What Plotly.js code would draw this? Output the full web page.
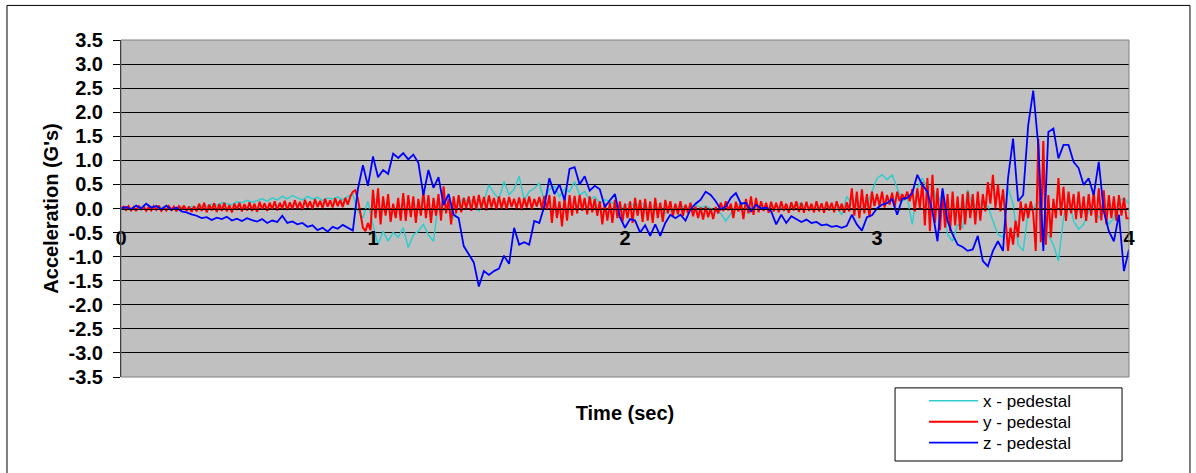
<!DOCTYPE html>
<html>
<head>
<meta charset="utf-8">
<script src="https://cdn.plot.ly/plotly-3.0.1.min.js"></script>
<style>html,body{margin:0;padding:0;background:#fff;}#chart{width:1196px;height:473px;}</style>
</head>
<body>
<div id="chart"></div>
<script>
// Series names
const seriesNames = ["x - pedestal", "y - pedestal", "z - pedestal"];
// Time axis ticks
const timeTicks = [0, 1, 2, 3, 4];
const timeTickLabels = ["0", "1", "2", "3", "4"];
// Acceleration axis ticks
const accelTicks = [-3.5, -3.0, -2.5, -2.0, -1.5, -1.0, -0.5, 0.0, 0.5, 1.0, 1.5, 2.0, 2.5, 3.0, 3.5];
const accelTickLabels = ["-3.5", "-3.0", "-2.5", "-2.0", "-1.5", "-1.0", "-0.5", "0.0", "0.5", "1.0", "1.5", "2.0", "2.5", "3.0", "3.5"];
// Sampling: x and z read every 0.02 s, y every 0.01 s (starting at 0 s)
const stepXZ = 0.02;
const stepY = 0.01;

// x - pedestal (G's), every 0.02 s from 0 to 4 s
const xPedestal = [
 0.00,-0.03,0.02,-0.05,0.03,0.00,0.04,-0.02,0.03,0.00,
 0.02,-0.02,0.03,0.00,0.04,0.02,0.06,0.05,0.09,0.07,
 0.12,0.10,0.08,0.14,0.12,0.17,0.13,0.16,0.20,0.15,
 0.22,0.18,0.25,0.20,0.27,0.22,0.18,0.25,0.20,0.23,
 0.17,0.22,0.20,0.24,0.18,0.25,0.29,-0.05,-0.20,0.15,
 -0.35,-0.75,-0.47,-0.68,-0.50,-0.60,-0.40,-0.81,-0.55,-0.47,
 -0.33,-0.55,-0.68,0.15,-0.05,0.08,-0.20,0.10,0.22,0.10,
 0.20,-0.06,0.15,0.49,0.32,0.20,0.56,0.29,0.40,0.67,
 0.18,0.35,0.42,0.52,0.15,0.40,0.46,0.25,0.40,0.35,
 0.56,0.28,0.35,0.18,0.25,0.11,0.18,0.15,0.08,0.01,
 0.05,0.11,0.05,0.12,0.08,-0.05,0.03,0.00,-0.10,-0.05,
 0.02,0.05,0.02,0.04,0.08,0.02,0.05,0.00,-0.05,-0.10,
 -0.26,-0.10,0.05,0.11,0.06,0.02,0.00,0.03,-0.02,0.04,
 0.00,0.02,-0.03,0.03,0.08,0.11,0.00,-0.02,0.02,0.00,
 0.03,-0.02,0.01,-0.13,0.25,0.08,0.05,0.03,0.06,0.35,
 0.63,0.70,0.60,0.70,0.42,0.15,0.22,-0.33,0.42,0.63,
 0.42,0.50,0.10,0.32,-0.54,-0.68,-0.33,-0.40,0.39,0.05,
 0.10,0.08,0.05,-0.26,-0.54,-0.60,0.42,0.10,-0.75,-0.88,
 -0.06,0.00,0.15,-0.40,-0.55,-0.75,-1.09,-0.20,0.28,-0.26,
 -0.43,-0.33,-0.06,0.08,-0.20,-0.06,-0.33,-0.20,0.15,0.22,
 0.10
];

// y - pedestal (G's), every 0.01 s from 0 to 4 s
const yPedestal = [
 0.00,0.04,-0.03,0.05,-0.04,0.03,-0.05,0.06,-0.02,0.04,
 -0.05,0.03,-0.04,0.05,-0.03,0.06,-0.05,0.02,-0.04,0.05,
 -0.03,0.04,-0.06,0.05,-0.02,0.06,-0.05,0.04,-0.07,0.05,
 -0.06,0.10,-0.05,0.12,-0.08,0.08,-0.04,0.11,-0.07,0.09,
 -0.05,0.12,-0.06,0.07,-0.08,0.10,-0.03,0.12,-0.06,0.09,
 -0.04,0.13,-0.05,0.10,-0.07,0.14,-0.02,0.11,-0.05,0.12,
 -0.02,0.15,-0.04,0.12,0.00,0.16,-0.03,0.13,-0.01,0.17,
 0.00,0.14,-0.03,0.18,0.02,0.15,-0.01,0.19,0.03,0.16,
 0.01,0.20,0.04,0.17,0.02,0.21,0.05,0.18,0.03,0.22,
 0.08,0.25,0.35,0.38,0.20,-0.10,-0.40,-0.47,-0.30,-0.45,
 0.39,-0.20,0.42,-0.33,0.25,-0.15,0.30,-0.28,0.10,-0.20,
 0.22,-0.25,0.32,-0.26,0.28,-0.18,0.25,-0.30,0.20,-0.15,
 0.35,-0.20,0.28,-0.30,0.22,-0.15,0.30,-0.25,0.46,-0.10,
 0.20,-0.33,0.25,-0.10,0.28,-0.08,0.22,0.00,0.25,-0.05,
 0.26,-0.02,0.28,0.00,0.24,-0.04,0.27,0.02,0.22,-0.03,
 0.25,0.00,0.22,-0.02,0.24,0.03,0.20,0.00,0.23,-0.03,
 0.22,0.02,0.25,-0.01,0.20,0.04,0.24,0.00,0.26,-0.02,
 0.28,-0.30,0.25,-0.20,0.15,-0.37,0.22,-0.25,0.28,-0.15,
 0.26,-0.10,0.28,-0.05,0.22,-0.12,0.25,-0.08,0.20,-0.15,
 0.15,-0.33,0.10,-0.25,0.12,-0.30,0.18,-0.20,0.15,-0.28,
 0.10,-0.20,0.15,-0.30,0.22,-0.15,0.18,-0.28,0.20,-0.25,
 0.15,-0.30,0.22,-0.20,0.12,-0.28,0.18,-0.10,0.15,-0.16,
 0.10,-0.12,0.15,-0.15,0.08,-0.10,0.12,-0.16,0.04,-0.20,
 0.02,-0.23,0.04,-0.18,0.00,-0.22,0.03,-0.10,0.12,-0.05,
 0.15,-0.04,0.10,-0.20,0.14,-0.06,0.12,-0.22,0.20,-0.10,
 0.25,-0.13,0.22,-0.08,0.15,-0.05,0.12,-0.09,0.14,-0.06,
 0.12,-0.08,0.15,-0.05,0.10,-0.09,0.13,-0.04,0.15,-0.07,
 0.12,-0.09,0.14,-0.05,0.10,-0.08,0.15,-0.06,0.11,-0.09,
 0.14,-0.04,0.12,-0.08,0.15,-0.05,0.10,-0.09,0.13,-0.06,
 0.42,-0.15,0.35,-0.20,0.40,-0.10,0.30,-0.18,0.35,0.05,
 0.30,0.05,0.35,0.02,0.28,0.08,0.33,0.03,0.35,0.15,
 0.30,0.18,0.35,0.15,0.40,-0.06,0.42,0.00,0.55,-0.35,
 0.63,-0.47,0.70,-0.30,0.42,-0.45,0.35,-0.40,0.30,-0.47,
 0.35,-0.35,0.25,-0.45,0.30,-0.33,0.35,-0.20,0.30,-0.33,
 0.35,-0.25,0.30,-0.06,0.55,0.10,0.70,0.00,0.50,-0.06,
 0.40,-0.20,-0.88,-0.40,-0.75,-0.25,-0.60,0.15,-0.26,0.10,
 -0.20,0.15,-0.10,-0.88,1.45,-0.70,1.40,-0.75,0.28,-0.60,
 0.20,-0.20,0.63,-0.15,0.45,-0.26,0.35,-0.10,0.30,-0.22,
 0.35,-0.20,0.25,-0.26,0.30,-0.15,0.35,-0.30,0.42,-0.25,
 0.38,-0.33,0.28,-0.20,0.25,-0.26,0.28,-0.15,0.22,-0.20,
 -0.20
];

// z - pedestal (G's), every 0.02 s from 0 to 4 s
const zPedestal = [
 0.00,0.03,-0.02,0.06,0.00,0.10,0.02,0.05,-0.02,0.06,
 -0.03,0.02,-0.06,-0.08,-0.12,-0.15,-0.20,-0.18,-0.24,-0.19,
 -0.22,-0.17,-0.25,-0.21,-0.26,-0.20,-0.24,-0.27,-0.22,-0.30,
 -0.25,-0.28,-0.15,-0.30,-0.27,-0.33,-0.30,-0.38,-0.35,-0.45,
 -0.40,-0.48,-0.38,-0.42,-0.34,-0.40,-0.46,0.40,0.90,0.47,
 1.08,0.65,0.80,0.72,1.14,1.05,1.15,1.02,1.12,0.95,
 0.28,0.80,0.43,0.65,0.07,0.30,-0.13,-0.20,-0.78,-0.95,
 -1.12,-1.62,-1.30,-1.38,-1.30,-1.25,-0.98,-1.15,-0.40,-0.75,
 -0.70,-0.75,-0.26,-0.30,0.05,0.63,0.30,0.50,0.17,0.82,
 0.86,0.50,0.67,0.37,0.47,0.40,0.03,0.17,0.30,-0.18,
 -0.40,-0.22,-0.25,-0.50,-0.35,-0.57,-0.33,-0.57,-0.30,-0.13,
 -0.20,-0.13,-0.25,-0.02,0.10,0.18,0.35,0.28,0.15,-0.02,
 0.04,0.22,0.32,0.10,0.12,-0.06,0.08,0.00,0.02,-0.06,
 -0.33,-0.13,-0.30,-0.16,-0.22,-0.28,-0.23,-0.30,-0.28,-0.35,
 -0.33,-0.38,-0.36,-0.40,-0.36,-0.13,-0.33,-0.46,-0.18,-0.14,
 0.00,0.08,0.11,0.20,-0.13,0.20,0.22,0.32,0.70,0.49,
 0.35,-0.06,-0.68,0.42,-0.26,-0.54,-0.75,-0.80,-0.88,-0.85,
 -0.57,-1.09,-1.20,-0.88,-0.68,-0.88,0.63,1.45,0.15,0.28,
 1.73,2.45,1.32,-0.88,1.59,1.66,1.04,1.32,1.32,0.97,
 0.84,0.49,0.63,0.28,0.97,-0.06,-0.47,-0.68,-0.13,-1.30,
 -0.85
];

const lineColors = ["#33CCCC", "#FF0000", "#0000FF"];
const FONT = "Arial, 'Liberation Sans', sans-serif";

const traces = [
  {type: "scatter", mode: "lines", name: seriesNames[0], x0: 0, dx: stepXZ, y: xPedestal,
   line: {color: lineColors[0], width: 1.5}, legend: "legend"},
  {type: "scatter", mode: "lines", name: seriesNames[1], x0: 0, dx: stepY, y: yPedestal,
   line: {color: lineColors[1], width: 2}, legend: "legend2"},
  {type: "scatter", mode: "lines", name: seriesNames[2], x0: 0, dx: stepXZ, y: zPedestal,
   line: {color: lineColors[2], width: 1.8}, legend: "legend3"}
];

function legendAt(yPaper) {
  return {
    x: 0.7967, y: yPaper, xanchor: "left", yanchor: "middle",
    bgcolor: "rgba(0,0,0,0)", borderwidth: 0,
    font: {family: FONT, size: 17, color: "#000"},
    itemwidth: 49
  };
}

const layout = {
  width: 1196, height: 473,
  margin: {l: 121, r: 67, t: 40, b: 92, pad: 0},
  paper_bgcolor: "#FFFFFF",
  plot_bgcolor: "#C0C0C0",
  font: {family: FONT, color: "#000000"},
  showlegend: true,
  legend: legendAt(-0.072),
  legend2: legendAt(-0.134),
  legend3: legendAt(-0.196),
  xaxis: {
    range: [0, 4], anchor: "free", position: 0.5, automargin: false,
    tickmode: "array", tickvals: timeTicks, ticktext: timeTickLabels,
    ticks: "", showgrid: false, zeroline: false,
    showline: true, linecolor: "#000", linewidth: 1,
    tickfont: {family: FONT, size: 20, weight: "bold", color: "#000"},
    ticklabelstandoff: 11,
    title: {text: "Time (sec)", font: {family: FONT, size: 20, weight: "bold", color: "#000"}, standoff: 158}
  },
  yaxis: {
    range: [-3.5, 3.5], tickmode: "array", tickvals: accelTicks, ticktext: accelTickLabels, automargin: false,
    ticks: "outside", ticklen: 7, tickcolor: "#000", tickwidth: 1,
    showline: true, linecolor: "#000", linewidth: 1,
    showgrid: true, gridcolor: "#000", gridwidth: 1, zeroline: false,
    tickfont: {family: FONT, size: 20, weight: "bold", color: "#000"},
    ticklabelstandoff: 6,
    title: {text: "Acceleration (G's)", font: {family: FONT, size: 20, weight: "bold", color: "#000"}, standoff: 4}
  },
  shapes: [
    {type: "rect", xref: "paper", yref: "paper", x0: 0, x1: 1, y0: 0, y1: 1,
     line: {color: "#808080", width: 1}, layer: "above"},
    {type: "rect", xref: "paper", yref: "paper", x0: -0.1131, x1: 1.0605, y0: -0.30, y1: 1.1026,
     line: {color: "#000", width: 1}, layer: "below"},
    {type: "rect", xref: "paper", yref: "paper", x0: 0.7679, x1: 0.9931, y0: -0.2493, y1: -0.0323,
     line: {color: "#000", width: 1}, fillcolor: "#FFFFFF", layer: "below"}
  ]
};

Plotly.newPlot("chart", traces, layout, {staticPlot: true, displayModeBar: false});
</script>
</body>
</html>
